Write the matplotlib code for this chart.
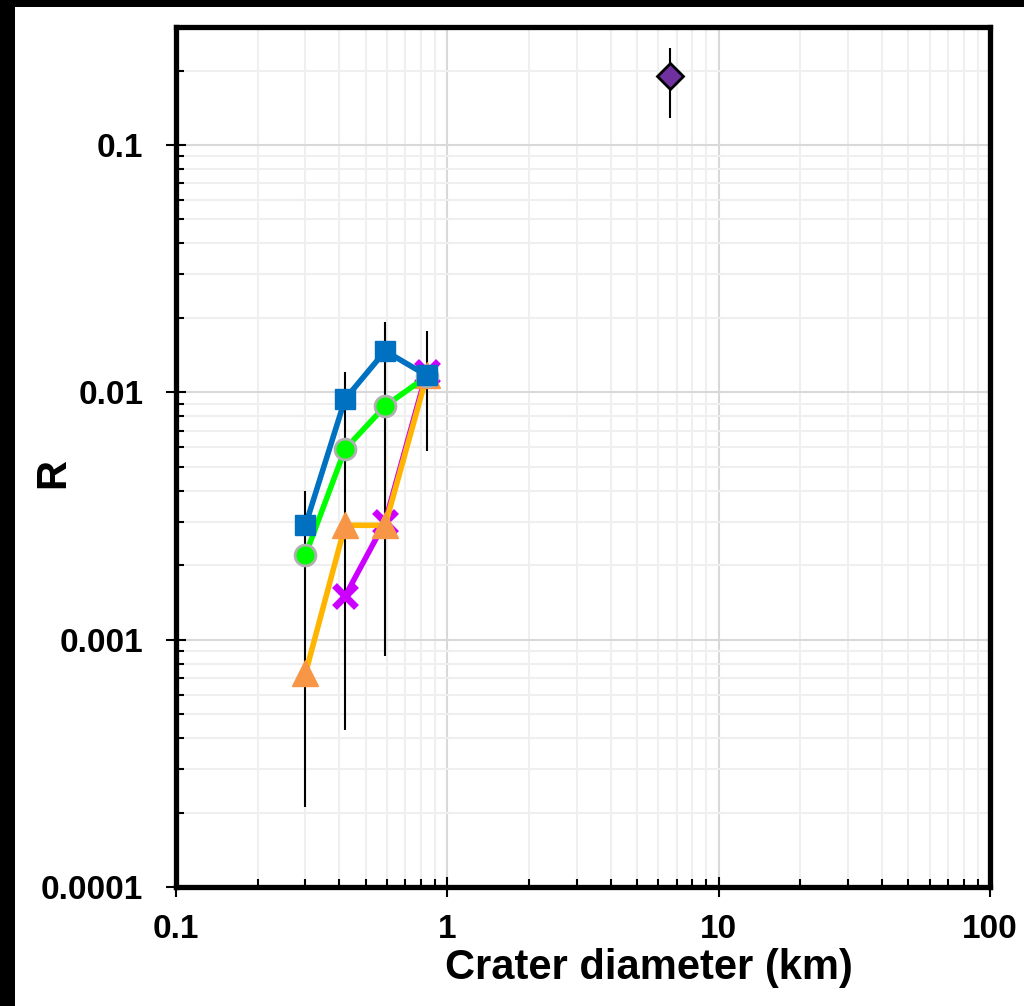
import matplotlib
matplotlib.use("Agg")
import matplotlib.pyplot as plt
from matplotlib.patches import Rectangle
from matplotlib.ticker import LogLocator, FixedLocator, FixedFormatter, NullFormatter
import numpy as np

# ---- data ----
diam = [0.30, 0.42, 0.59, 0.84]
r_blue = [0.0029, 0.0094, 0.0147, 0.0117]
r_green = [0.0022, 0.0059, 0.0088, 0.0116]
r_orange = [0.00073, 0.0029, 0.0029, 0.0117]
diam_magenta = [0.42, 0.59, 0.84]
r_magenta = [0.0015, 0.0030, 0.0121]
err_low = [0.00021, 0.00043, 0.00086, 0.0058]
err_high = [0.0040, 0.0121, 0.0193, 0.0177]

diam_big = [6.6]
r_big = [0.19]
big_low = [0.128]
big_high = [0.246]

xticks = [0.1, 1, 10, 100]
xticklabels = ["0.1", "1", "10", "100"]
yticks = [0.0001, 0.001, 0.01, 0.1]
yticklabels = ["0.0001", "0.001", "0.01", "0.1"]

plt.rcParams['font.family'] = ['Liberation Sans', 'DejaVu Sans']
plt.rcParams['font.weight'] = 'bold'

fig = plt.figure(figsize=(10.24, 10.06), dpi=100)
ax = fig.add_axes([176/1024, 1-887/1006, (990-176)/1024, (887-27)/1006])

ax.set_xscale('log')
ax.set_yscale('log')
ax.set_xlim(0.1, 100)
ax.set_ylim(0.0001, 0.3)

# grid
ax.grid(True, which='major', color='#d9d9d9', lw=1.5, zorder=0)
ax.grid(True, which='minor', color='#efefef', lw=1.5, zorder=0)
ax.set_axisbelow(True)

# error bars
d = np.array(diam)
ax.vlines(d, err_low, err_high, color='black', lw=1.5, zorder=2)
ax.vlines(diam_big, big_low, big_high, color='black', lw=1.5, zorder=2)

# series
ax.plot(diam_magenta, r_magenta, color='#CC00FF', lw=4, marker='x', ms=16,
        mew=5, zorder=3)
ax.plot(diam, r_orange, color='#FFB400', lw=4, marker='^', ms=19,
        mfc='#F79646', mec='#F79646', zorder=4)
ax.plot(diam, r_green, color='#00FF00', lw=4, marker='o', ms=15,
        mfc='#00FF00', mec='#B0B0B0', mew=2, zorder=5)
ax.plot(diam, r_blue, color='#0070C0', lw=4, marker='s', ms=15,
        mfc='#0070C0', mec='#0070C0', zorder=6)
ax.plot(diam_big, r_big, linestyle='none', marker='D', ms=13,
        mfc='#7030A0', mec='black', mew=2, zorder=6)

# ticks
ax.xaxis.set_major_locator(FixedLocator(xticks))
ax.xaxis.set_major_formatter(FixedFormatter(xticklabels))
ax.yaxis.set_major_locator(FixedLocator(yticks))
ax.yaxis.set_major_formatter(FixedFormatter(yticklabels))
ax.xaxis.set_minor_locator(LogLocator(base=10, subs=np.arange(2, 10), numticks=20))
ax.yaxis.set_minor_locator(LogLocator(base=10, subs=np.arange(2, 10), numticks=20))
ax.xaxis.set_minor_formatter(NullFormatter())
ax.yaxis.set_minor_formatter(NullFormatter())

ax.tick_params(which='major', direction='inout', length=15, width=1.5,
               labelsize=24, top=False, right=False)
ax.tick_params(which='minor', direction='in', length=6, width=1.5,
               top=False, right=False)
ax.tick_params(axis='y', which='major', pad=16)
ax.tick_params(axis='x', which='major', pad=12)
for lab in ax.get_xticklabels() + ax.get_yticklabels():
    lab.set_fontweight('bold')

for s in ax.spines.values():
    s.set_linewidth(3.8)
    s.set_color('black')

ax.set_xlabel('Crater diameter (km)', fontsize=30, fontweight='bold')
ax.set_ylabel('R', fontsize=30, fontweight='bold')
ax.xaxis.set_label_coords((649-176)/814, -(968-887)/860)
ax.yaxis.set_label_coords((53-176)/814, (887-473)/860)
ax.xaxis.label.set_va('center')
ax.yaxis.label.set_va('center')

# black frame bands at top and left of the figure
fig.patches.append(Rectangle((0, 1-7/1006), 1, 7/1006, transform=fig.transFigure,
                             facecolor='black', edgecolor='none', zorder=10))
fig.patches.append(Rectangle((0, 0), 15/1024, 1, transform=fig.transFigure,
                             facecolor='black', edgecolor='none', zorder=10))

fig.savefig('out.png', dpi=100)
